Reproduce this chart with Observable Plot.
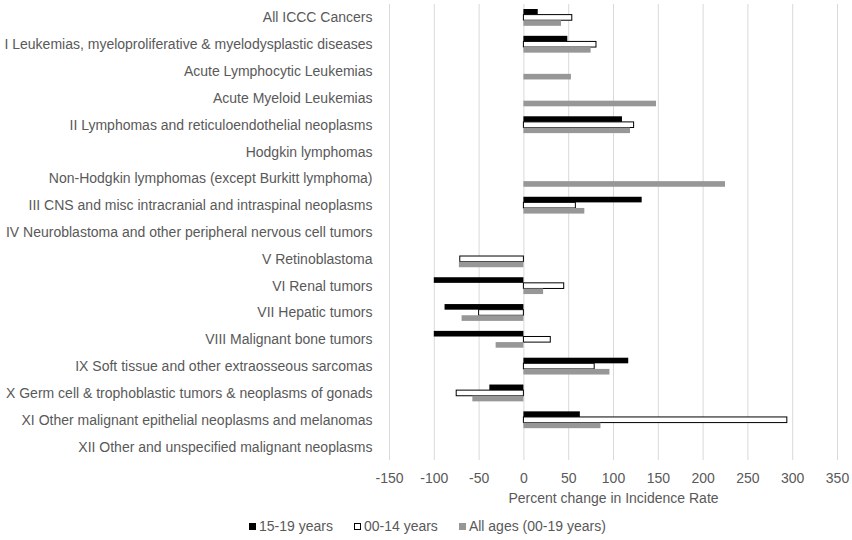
<!DOCTYPE html>
<html>
<head>
<meta charset="utf-8">
<script src="https://cdn.jsdelivr.net/npm/d3@7"></script>
<script src="https://cdn.jsdelivr.net/npm/@observablehq/plot@0.6"></script>
<style>
  body { margin: 0; background: #fff; font-family: "Liberation Sans", Arial, sans-serif; }
  svg { display: block; }
  #legend { display: flex; align-items: center; height: 16px; margin-top: 8px; padding-left: 249px; gap: 21px; font-size: 14px; color: #595959; }
  .item { display: flex; align-items: center; gap: 3px; }
  .sw { width: 7px; height: 7px; box-sizing: border-box; }
</style>
</head>
<body>
<div id="chart"></div>
<script>
const categories = [
  "All ICCC Cancers",
  "I Leukemias, myeloproliferative & myelodysplastic diseases",
  "Acute Lymphocytic Leukemias",
  "Acute Myeloid Leukemias",
  "II Lymphomas and reticuloendothelial neoplasms",
  "Hodgkin lymphomas",
  "Non-Hodgkin lymphomas (except Burkitt lymphoma)",
  "III CNS and misc intracranial and intraspinal neoplasms",
  "IV Neuroblastoma and other peripheral nervous cell tumors",
  "V Retinoblastoma",
  "VI Renal tumors",
  "VII Hepatic tumors",
  "VIII Malignant bone tumors",
  "IX Soft tissue and other extraosseous sarcomas",
  "X Germ cell & trophoblastic tumors & neoplasms of gonads",
  "XI Other malignant epithelial neoplasms and melanomas",
  "XII Other and unspecified malignant neoplasms"
];
const seriesNames = ["15-19 years", "00-14 years", "All ages (00-19 years)"];
const values15to19 = [16, 49, null, null, 110, null, null, 132, null, null, -100, -88, -100, 117, -38, 63, null];
const values00to14 = [54, 81, null, null, 123, null, null, 58, null, -71, 45, -50, 30, 79, -75, 294, null];
const valuesAllAges = [42, 75, 53, 148, 119, null, 225, 68, null, -72, 22, -69, -31, 96, -57, 86, null];
const xTicks = [-150, -100, -50, 0, 50, 100, 150, 200, 250, 300, 350];
const axisTitle = "Percent change in Incidence Rate";

const seriesStyle = {
  "15-19 years": {fill: "#000000", stroke: "none", insetTop: 5.0, insetBottom: 16.2},
  "00-14 years": {fill: "#ffffff", stroke: "#000000", insetTop: 10.6, insetBottom: 10.6},
  "All ages (00-19 years)": {fill: "#979797", stroke: "none", insetTop: 16.2, insetBottom: 5.0}
};

const seriesValues = [values15to19, values00to14, valuesAllAges];
const barMarks = seriesNames.map((s, si) => {
  const rows = [];
  seriesValues[si].forEach((v, ci) => { if (v !== null) rows.push({category: categories[ci], value: v}); });
  const st = seriesStyle[s];
  return Plot.barX(rows, {
    y: "category", x: "value",
    fill: st.fill, stroke: st.stroke, strokeWidth: 1,
    insetTop: st.insetTop, insetBottom: st.insetBottom
  });
});

const chart = Plot.plot({
  width: 852,
  height: 510,
  marginLeft: 389,
  marginRight: 15,
  marginTop: 4,
  marginBottom: 50,
  style: {fontFamily: "'Liberation Sans', Arial, sans-serif", fontSize: "14px", color: "#595959", background: "#fff"},
  x: {domain: [-150, 350], ticks: xTicks, tickFormat: d => `${d}`, tickSize: 0, tickPadding: 13, label: null},
  y: {domain: categories, padding: 0, round: false, label: null, tickSize: 0, tickPadding: 17},
  marks: [
    Plot.ruleX(xTicks, {stroke: "#d9d9d9", strokeWidth: 1}),
    ...barMarks,
    Plot.text([axisTitle], {frameAnchor: "bottom", dy: 42, fill: "#595959", fontSize: 14})
  ]
});
document.getElementById("chart").appendChild(chart);

const legend = document.createElement("div");
legend.id = "legend";
seriesNames.forEach(s => {
  const item = document.createElement("div");
  item.className = "item";
  const sw = document.createElement("span");
  sw.className = "sw";
  sw.style.background = seriesStyle[s].fill;
  if (seriesStyle[s].stroke !== "none") sw.style.border = "1px solid " + seriesStyle[s].stroke;
  const label = document.createElement("span");
  label.textContent = s;
  item.appendChild(sw);
  item.appendChild(label);
  legend.appendChild(item);
});
document.body.appendChild(legend);
</script>
</body>
</html>
